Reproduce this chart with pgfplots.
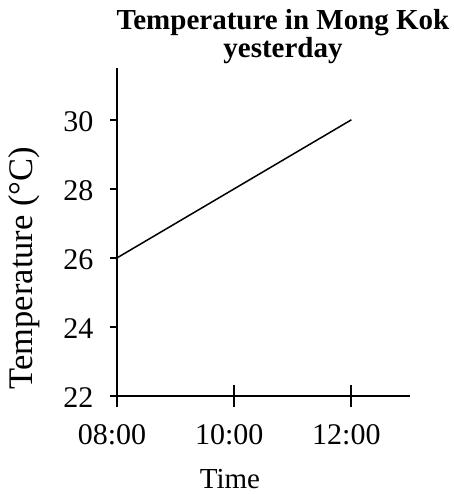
\documentclass[border=0pt]{standalone}
\usepackage{fontspec}
\setmainfont{Liberation Serif}
\usepackage{pgfplots}
\pgfplotsset{compat=1.18}
\begin{document}
\begin{tikzpicture}
\begin{axis}[
  scale only axis, width=293bp, height=328bp,
  xmin=8, xmax=13, ymin=22, ymax=31.5,
  axis lines=left,
  axis line style={line width=2.5bp, -},
  xtick={8,10,12}, xticklabels={08:00,10:00,12:00},
  ytick={22,24,26,28,30},
  tick align=outside, major tick length=7bp,
  tick style={line width=2bp, black},
  extra x ticks={8,10,12}, extra x tick labels={},
  extra tick style={tick align=center, major tick length=22bp},
  /pgf/number format/assume math mode=true,
  tick label style={font=\fontsize{30bp}{34bp}\selectfont},
  xticklabel style={xshift=-5bp, yshift=-18bp},
  yticklabel style={xshift=-13bp, yshift=-2bp},
  clip=false,
]
\addplot[black, line width=1.5bp] coordinates {(8,26) (12,30)};
\coordinate (O) at (rel axis cs:0,0);
\end{axis}
\node[anchor=base, inner sep=0, font=\fontsize{29bp}{34bp}\selectfont\bfseries] at ([shift={(166bp,366bp)}]O) {Temperature in Mong Kok};
\node[anchor=base, inner sep=0, font=\fontsize{29bp}{34bp}\selectfont\bfseries] at ([shift={(166bp,338bp)}]O) {yesterday};
\node[anchor=base, inner sep=0, font=\fontsize{29bp}{34bp}\selectfont] at ([shift={(113bp,-92bp)}]O) {Time};
\node[anchor=base, inner sep=0, rotate=90, font=\fontsize{34.5bp}{38bp}\selectfont] at ([shift={(-84bp,128bp)}]O) {Temperature (°C)};
\pgfresetboundingbox
\path[use as bounding box] ([shift={(-117bp,-99bp)}]O) rectangle ([shift={(337bp,396bp)}]O);
\end{tikzpicture}
\end{document}
